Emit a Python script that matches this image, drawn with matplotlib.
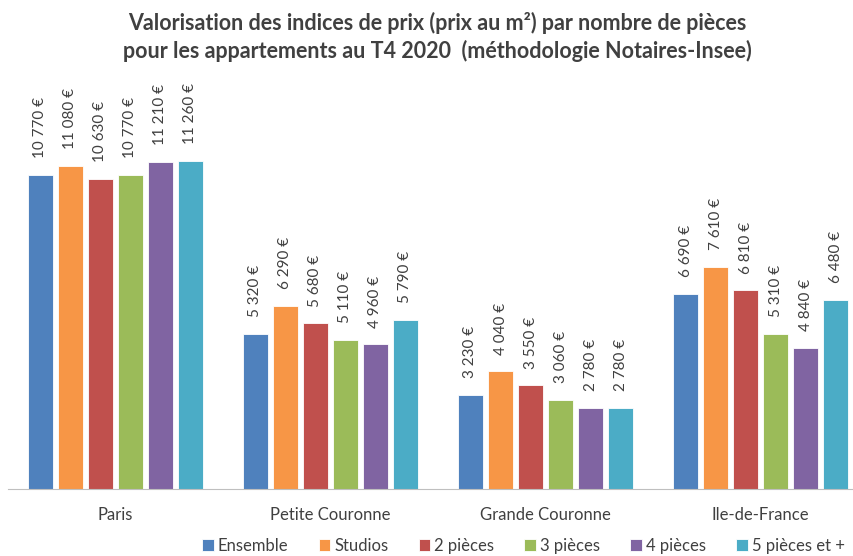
import matplotlib

matplotlib.use("Agg")
import matplotlib.pyplot as plt
import numpy as np

plt.rcParams["font.family"] = ["Lato", "DejaVu Sans"]

zones = ["Paris", "Petite Couronne", "Grande Couronne", "Ile-de-France"]
series = ["Ensemble", "Studios", "2 pièces", "3 pièces", "4 pièces", "5 pièces et +"]
colors = ["#4F81BD", "#F79646", "#C0504D", "#9BBB59", "#8064A2", "#4BACC6"]

ensemble = [10770, 5320, 3230, 6690]
studios = [11080, 6290, 4040, 7610]
p2 = [10630, 5680, 3550, 6810]
p3 = [10770, 5110, 3060, 5310]
p4 = [11210, 4960, 2780, 4840]
p5 = [11260, 5790, 2780, 6480]
values = [ensemble, studios, p2, p3, p4, p5]


def fmt(v):
    return f"{v:,}".replace(",", " ") + " €"


fig = plt.figure(figsize=(8.54, 5.56), dpi=100)
ax = fig.add_axes([0.0088, 0.1205, 1.008, 0.7716])

x = np.arange(len(zones))
pitch = 0.1395
width = 0.116
for i, (name, vals, c) in enumerate(zip(series, values, colors)):
    pos = x + (i - 2.5) * pitch
    ax.bar(pos, vals, width, color=c, label=name, edgecolor="white", linewidth=0.6)
    for px, v in zip(pos, vals):
        ax.annotate(fmt(v), (px, v), xytext=(0, 12), textcoords="offset points",
                    rotation=90, ha="center", va="bottom", fontsize=11,
                    color="#404040")

ax.set_xlim(-0.5, 3.5)
ax.set_ylim(0, 14710)
ax.set_yticks([])
ax.set_xticks(x)
ax.set_xticklabels(zones, fontsize=12, color="#404040")
ax.tick_params(axis="x", length=0, pad=13)
for s in ["top", "right", "left"]:
    ax.spines[s].set_visible(False)
ax.spines["bottom"].set_color("#BFBFBF")

fig.text(0.512, 0.958, "Valorisation des indices de prix (prix au m²) par nombre de pièces",
         ha="center", va="center", fontsize=15.5, fontweight="bold", color="#404040")
fig.text(0.512, 0.908, "pour les appartements au T4 2020  (méthodologie Notaires-Insee)",
         ha="center", va="center", fontsize=15.5, fontweight="bold", color="#404040")

fig.legend(loc="center", bbox_to_anchor=(0.613, 0.018), ncol=6, frameon=False,
           fontsize=12, handlelength=0.7, handleheight=0.7, handletextpad=0.25,
           columnspacing=1.8, labelcolor="#404040")

fig.savefig("out.png", dpi=100)
